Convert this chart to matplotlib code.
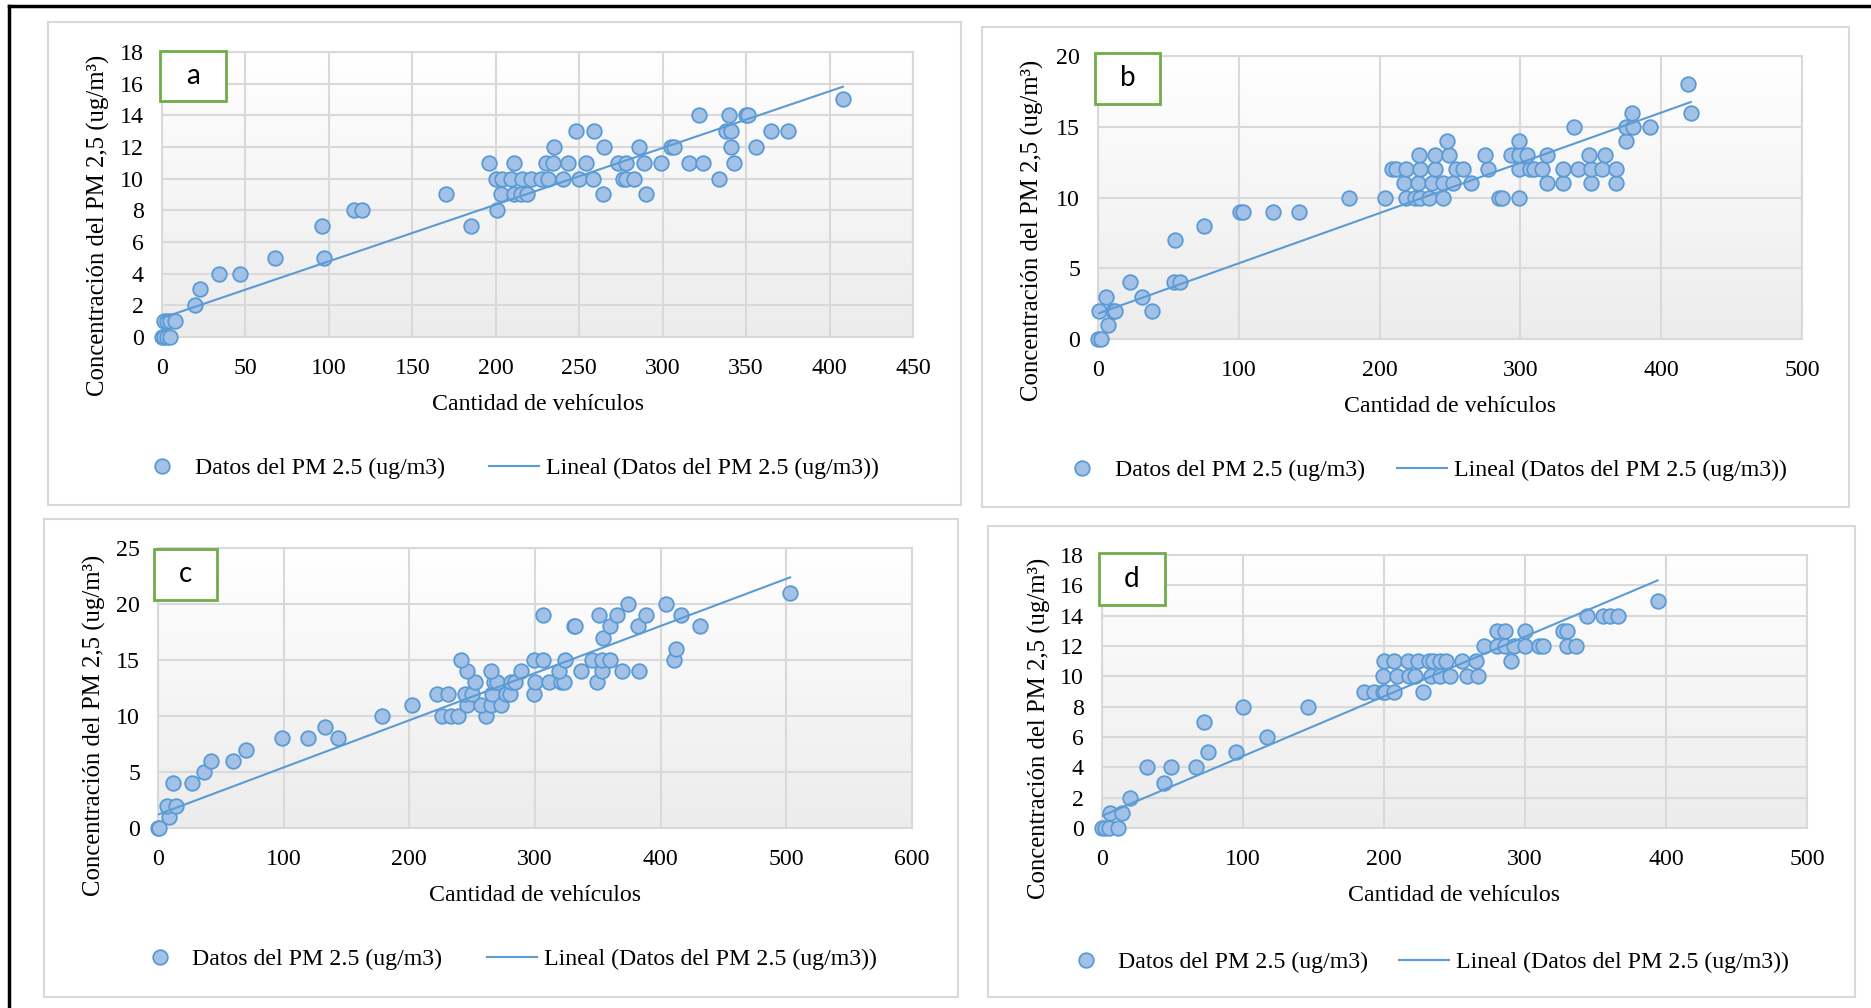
import numpy as np
import matplotlib
matplotlib.use("Agg")
from matplotlib import pyplot as plt
from matplotlib.patches import Rectangle
from matplotlib.lines import Line2D
from matplotlib.colors import LinearSegmentedColormap

# ---- data (vehicles, PM 2.5 ug/m3) ----
a_x = [0, 1, 3, 5, 1, 3, 5, 8, 20, 23, 34, 47, 68, 97, 96, 115, 120, 170, 185, 201,
       203, 211, 215, 219, 264, 290,
       200, 204, 209, 216, 221, 227, 231, 240, 250, 258, 276, 278, 283, 334,
       196, 211, 230, 234, 243, 254, 273, 278, 289, 299, 316, 324, 343,
       235, 265, 286, 305, 307, 341, 356,
       248, 259, 338, 341, 365, 375,
       322, 340, 350, 351, 408]
a_y = [0, 0, 0, 0, 1, 1, 1, 1, 2, 3, 4, 4, 5, 5, 7, 8, 8, 9, 7, 8,
       9, 9, 9, 9, 9, 9,
       10, 10, 10, 10, 10, 10, 10, 10, 10, 10, 10, 10, 10, 10,
       11, 11, 11, 11, 11, 11, 11, 11, 11, 11, 11, 11, 11,
       12, 12, 12, 12, 12, 12, 12,
       13, 13, 13, 13, 13, 13,
       14, 14, 14, 14, 15]

b_x = [0, 2, 7, 1, 11, 12, 38, 6, 31, 23, 54, 58, 55, 75, 101, 103, 124, 143,
       178, 204, 219, 225, 229, 235, 245, 285, 287, 299,
       217, 227, 237, 245, 252, 265, 319, 330, 350, 368,
       209, 212, 219, 229, 239, 254, 259, 277, 299, 307, 310, 315, 330, 341, 350, 358, 368,
       228, 239, 249, 275, 293, 299, 305, 319, 349, 360,
       248, 299, 375, 338, 375, 380, 392, 379, 421, 419]
b_y = [0, 0, 1, 2, 2, 2, 2, 3, 3, 4, 4, 4, 7, 8, 9, 9, 9, 9,
       10, 10, 10, 10, 10, 10, 10, 10, 10, 10,
       11, 11, 11, 11, 11, 11, 11, 11, 11, 11,
       12, 12, 12, 12, 12, 12, 12, 12, 12, 12, 12, 12, 12, 12, 12, 12, 12,
       13, 13, 13, 13, 13, 13, 13, 13, 13, 13,
       14, 14, 14, 15, 15, 15, 15, 16, 16, 18]

c_x = [0, 1, 9, 7, 14, 12, 27, 37, 42, 60, 70, 99, 119, 143, 133,
       178, 226, 233, 239, 261,
       202, 246, 257, 265, 273,
       222, 231, 244, 250, 266, 277, 280, 299,
       252, 267, 270, 281, 284, 300, 311, 321, 323, 349,
       246, 265, 289, 319, 337, 353, 369, 383,
       241, 299, 306, 324, 345, 353, 360, 411,
       412, 354, 331, 332, 360, 382, 431,
       306, 351, 365, 388, 416, 374, 404, 503]
c_y = [0, 0, 1, 2, 2, 4, 4, 5, 6, 6, 7, 8, 8, 8, 9,
       10, 10, 10, 10, 10,
       11, 11, 11, 11, 11,
       12, 12, 12, 12, 12, 12, 12, 12,
       13, 13, 13, 13, 13, 13, 13, 13, 13, 13,
       14, 14, 14, 14, 14, 14, 14, 14,
       15, 15, 15, 15, 15, 15, 15, 15,
       16, 17, 18, 18, 18, 18, 18,
       19, 19, 19, 19, 19, 20, 20, 21]

d_x = [0, 2, 5, 11, 6, 14, 20, 44, 32, 49, 67, 75, 95, 117, 72, 100, 146,
       186, 193, 199, 201, 207, 228,
       199, 209, 218, 222, 233, 240, 247, 259, 267,
       200, 207, 217, 224, 232, 235, 240, 244, 255, 265, 290,
       271, 280, 286, 292, 300, 310, 313, 330, 336,
       280, 286, 300, 327, 330,
       344, 355, 360, 366, 394]
d_y = [0, 0, 0, 0, 1, 1, 2, 3, 4, 4, 4, 5, 5, 6, 7, 8, 8,
       9, 9, 9, 9, 9, 9,
       10, 10, 10, 10, 10, 10, 10, 10, 10,
       11, 11, 11, 11, 11, 11, 11, 11, 11, 11, 11,
       12, 12, 12, 12, 12, 12, 12, 12, 12,
       13, 13, 13, 13, 13,
       14, 14, 14, 14, 15]

# linear trendlines as drawn in the figure: (intercept, slope)
trend_a = (1.2, 0.0358)
trend_b = (1.8, 0.0355)
trend_c = (1.2, 0.0421)
trend_d = (0.8, 0.0394)

letters = ["a", "b", "c", "d"]
x_limits = [450, 500, 600, 500]
x_steps = [50, 100, 100, 100]
y_limits = [18, 20, 25, 18]
y_steps = [2, 5, 5, 2]

xlabel = "Cantidad de vehículos"
ylabel = "Concentración del PM 2,5 (ug/m³)"
series_label = "Datos del PM 2.5 (ug/m3)"
trend_label = "Lineal (Datos del PM 2.5 (ug/m3))"

# ---- layout, all in pixels of the 1871x1008 picture ----
W, H = 1871, 1008
# plot area: left, right, top, bottom
plot_boxes = [(162, 913, 52, 337), (1098, 1802, 56, 339),
              (158, 912, 548, 828), (1102, 1807, 555, 828)]
# chart frame: left, right, top, bottom
frame_boxes = [(48, 961, 22, 505), (982, 1849, 27, 507),
               (44, 958, 519, 997), (988, 1855, 526, 997)]
letter_boxes = [(160, 226, 51, 101), (1095, 1160, 53, 104),
                (154, 217, 549, 600), (1099, 1165, 553, 605)]
ylabel_pos = [(98, 225), (1032, 230), (94, 725), (1039, 728)]
legend_pos = [(508, 468), (1422, 470), (506, 959), (1425, 962)]
legend_gap = [1.84, 1.34, 1.88, 1.3]

blue_edge = "#5b9bd5"
blue_face = "#a3c1e6"
grid_col = "#d9d9d9"
green = "#70ad47"
fs = 17.2

plt.rcParams["font.family"] = ["Liberation Serif", "DejaVu Serif"]
plt.rcParams["font.size"] = fs

fig = plt.figure(figsize=(W / 100, H / 100), dpi=100)


def fx(px):
    return px / W


def fy(py):
    return 1 - py / H


# outer black frame (only the top and left edges are in view)
fig.add_artist(Line2D([fx(9), fx(9)], [fy(6), fy(H)], color="black", lw=2.5,
                      transform=fig.transFigure))
fig.add_artist(Line2D([fx(9), fx(W)], [fy(6), fy(6)], color="black", lw=2.5,
                      transform=fig.transFigure))

gradient = np.linspace(1, 0, 256).reshape(-1, 1)
bg_cmap = LinearSegmentedColormap.from_list("bg", ["#ececec", "#ffffff"])

datasets = [(a_x, a_y), (b_x, b_y), (c_x, c_y), (d_x, d_y)]
trends = [trend_a, trend_b, trend_c, trend_d]

for i, (xs, ys) in enumerate(datasets):
    xs = np.array(xs, dtype=float)
    ys = np.array(ys, dtype=float)

    l, r, t, b = frame_boxes[i]
    fig.add_artist(Rectangle((fx(l), fy(b)), (r - l) / W, (b - t) / H,
                             transform=fig.transFigure, facecolor="white",
                             edgecolor=grid_col, lw=1.5, zorder=-5))

    l, r, t, b = plot_boxes[i]
    ax = fig.add_axes([fx(l), fy(b), (r - l) / W, (b - t) / H])
    ax.imshow(gradient, cmap=bg_cmap, aspect="auto", extent=(0, 1, 0, 1),
              transform=ax.transAxes, zorder=0)
    ax.set_xlim(0, x_limits[i])
    ax.set_ylim(0, y_limits[i])
    ax.set_xticks(np.arange(0, x_limits[i] + 1, x_steps[i]))
    ax.set_yticks(np.arange(0, y_limits[i] + 1, y_steps[i]))
    ax.grid(True, color=grid_col, lw=1.5, zorder=1)
    ax.set_axisbelow(True)
    for s in ax.spines.values():
        s.set_color(grid_col)
        s.set_linewidth(1.5)
    ax.tick_params(length=0, labelsize=fs)
    ax.tick_params(axis="x", pad=15)
    ax.tick_params(axis="y", pad=13)

    pts, = ax.plot(xs, ys, "o", ms=10.5, mfc=blue_face, mec=blue_edge, mew=1.3,
                   ls="none", zorder=3, clip_on=False, label=series_label)
    c0, k = trends[i]
    tx = np.array([xs.min(), xs.max()])
    trend, = ax.plot(tx, c0 + k * tx, color=blue_edge, lw=1.5, zorder=4,
                     label=trend_label)

    ax.set_xlabel(xlabel, fontsize=fs, labelpad=11)

    px, py = ylabel_pos[i]
    fig.text(fx(px), fy(py), ylabel, rotation=90, ha="center", va="center",
             fontsize=fs + 0.6)

    lx, ly = legend_pos[i]
    fig.legend(handles=[pts, trend], loc="center",
               bbox_to_anchor=(fx(lx), fy(ly)), ncol=2, frameon=False,
               fontsize=fs, handlelength=2.1, handletextpad=0.3,
               columnspacing=legend_gap[i])

    l, r, t, b = letter_boxes[i]
    fig.add_artist(Rectangle((fx(l), fy(b)), (r - l) / W, (b - t) / H,
                             transform=fig.transFigure, facecolor="white",
                             edgecolor=green, lw=2, zorder=10))
    fig.text(fx((l + r) / 2), fy((t + b) / 2), letters[i], ha="center",
             va="center", fontsize=20, family=["Lato", "DejaVu Sans"],
             zorder=11)

fig.savefig("out.png", dpi=100)
